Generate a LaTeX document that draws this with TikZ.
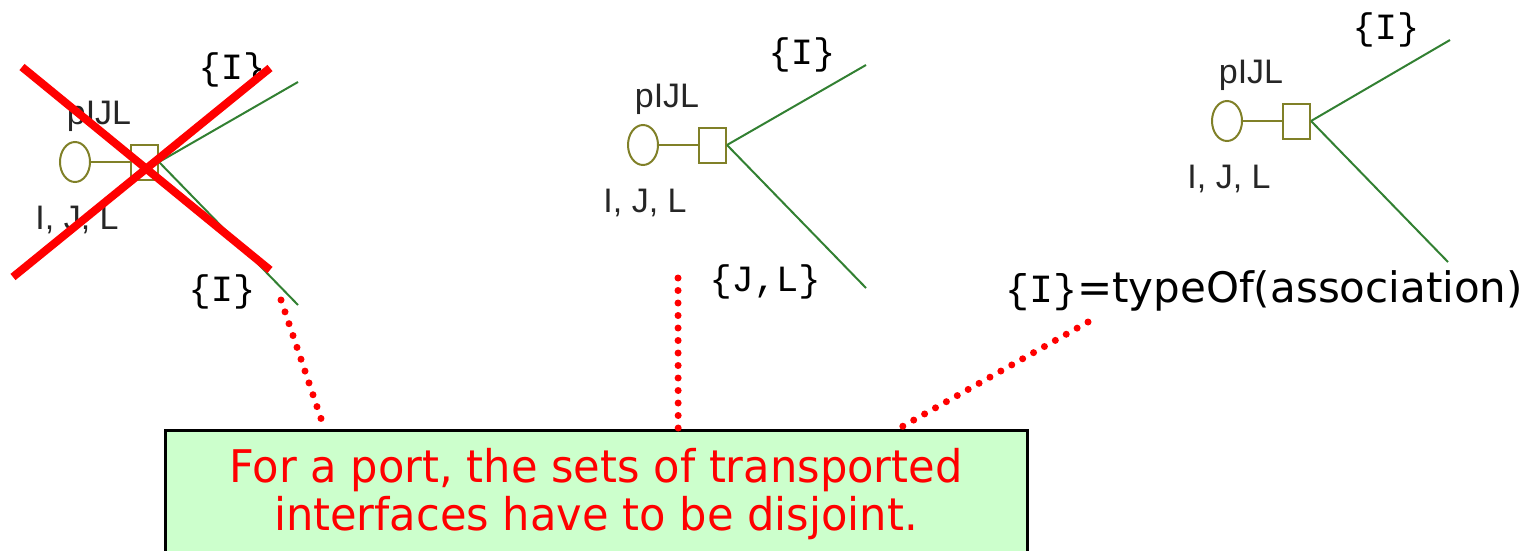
\documentclass[tikz,border=0pt]{standalone}
\usepackage{fontspec}
\setmainfont{Liberation Sans}
\newfontfamily\setfont{Liberation Mono}
\newfontfamily\verdfont{DejaVu Sans}
\newfontfamily\notefont{DejaVu Sans}[FakeStretch=0.96]
\usetikzlibrary{shapes.geometric,positioning,calc}
\definecolor{portol}{RGB}{128,128,40}
\definecolor{assocgr}{RGB}{50,128,50}
\definecolor{notegr}{RGB}{204,255,204}

\tikzset{
  portel/.style={ellipse, draw=portol, line width=2pt, minimum width=30pt,
    minimum height=40pt, inner sep=0pt},
  portsq/.style={rectangle, draw=portol, line width=2pt, minimum width=27pt,
    minimum height=35pt, inner sep=0pt},
  assoc/.style={assocgr, line width=2pt},
  lbl/.style={font=\fontsize{34}{34}\selectfont, text=black!85, inner sep=0pt},
  setlbl/.style={font=\setfont\fontsize{37}{37}\selectfont, inner sep=0pt},
  dots/.style={red, line width=7pt, line cap=round, dash pattern=on 0pt off 12.5pt},
  note/.style={draw=black, line width=3pt, fill=notegr, text=red, align=center,
    font=\notefont\fontsize{45}{48}\selectfont}
}

\begin{document}
\begin{tikzpicture}[x=1pt, y=-1pt]
\useasboundingbox (0,0) rectangle (1538,551);
% the three ports
\foreach \n/\ex/\ey in {1/75/162, 2/643/145, 3/1227/121} {
  \node[portel] (e\n) at (\ex,\ey) {};
  \node[portsq, right=39pt of e\n] (s\n) {};
  \draw[portol, line width=2pt] (e\n) -- (s\n);
  \node[lbl] (p\n) at (\ex+24,\ey-46) {pIJL};
  \node[lbl] (t\n) at (\ex+2,\ey+58) {I, J, L};
}
% associations
\coordinate (a1) at (298,82);   \coordinate (b1) at (298,305);
\coordinate (a2) at (866,65);   \coordinate (b2) at (866,288);
\coordinate (a3) at (1450,40);  \coordinate (b3) at (1448,262);
\foreach \n in {1,2,3} {
  \draw[assoc] (s\n.east) -- (a\n);
  \draw[assoc] (s\n.east) -- (b\n);
}
\node[setlbl] (i1) at (232,70) {\{I\}};
\node[setlbl] (i1b) at (222,292) {\{I\}};
\node[setlbl] (i2) at (802,55) {\{I\}};
\node[setlbl] (jl2) at (765,282) {\{J,L\}};
\node[setlbl] (i3) at (1386,30) {\{I\}};
\node[inner sep=0pt, font=\verdfont\fontsize{42}{42}\selectfont] (typ) at (1264,291)
  {{\setfont\fontsize{40}{40}\selectfont\{I\}}=typeOf(association)};
% crossed out
\draw[red, line width=8pt] (22,67) -- (270,270);
\draw[red, line width=8pt] (13,277) -- (270,68);
% note and its pointers
\node[note, minimum width=862pt, minimum height=128pt] (note) at (596,494)
  {For a port, the sets of transported\\interfaces have to be disjoint.};
\coordinate (d1) at (281,300);
\coordinate (d2) at (678,278);
\coordinate (d3) at (1088,322);
\draw[dots] (d1) -- ($(note.north west)!0.186!(note.north east)$);
\draw[dots] (d2) -- ($(note.north west)!0.595!(note.north east)$);
\draw[dots] (d3) -- ($(note.north west)!0.850!(note.north east)$);
\end{tikzpicture}
\end{document}
